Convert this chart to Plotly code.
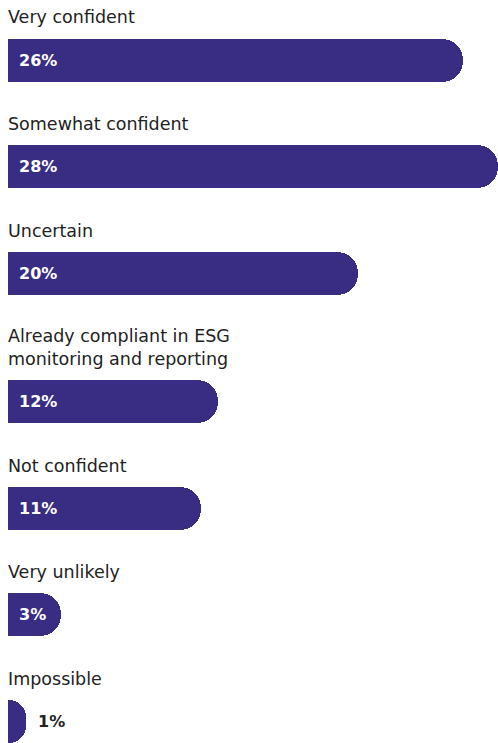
import plotly.graph_objects as go

categories = [
    "Very confident",
    "Somewhat confident",
    "Uncertain",
    "Already compliant in ESG<br>monitoring and reporting",
    "Not confident",
    "Very unlikely",
    "Impossible",
]
values = [26, 28, 20, 12, 11, 3, 1]
value_labels = [f"{v}%" for v in values]

BAR_COLOR = "#382c83"
TEXT_COLOR = "#222222"
FONT = "DejaVu Sans"

W, H = 498, 743
SLOT = 106.75
EXTRA_LINE = 21
BAR_H = 43

# compute vertical centres (in pixel-like units) from label line counts
centers = []
pos = 60
for i, c in enumerate(categories):
    lines = c.count("<br>") + 1
    pos += (lines - 1) * EXTRA_LINE
    centers.append(pos)
    pos += SLOT

fig = go.Figure(
    go.Bar(
        x=values,
        y=centers,
        orientation="h",
        width=BAR_H,
        marker=dict(color=BAR_COLOR, cornerradius=BAR_H / 2, line=dict(width=0)),
        hoverinfo="skip",
    )
)

annotations = []
for c, v, lab, yc in zip(categories, values, value_labels, centers):
    annotations.append(dict(
        x=0, y=yc - BAR_H / 2 - 9, xref="x", yref="y",
        text=c, showarrow=False, xanchor="left", yanchor="bottom", align="left",
        font=dict(family=FONT, size=17.5, color=TEXT_COLOR), xshift=-2,
    ))
    if v >= 3:
        annotations.append(dict(
            x=0, y=yc, xref="x", yref="y", text=f"<b>{lab}</b>", showarrow=False,
            xanchor="left", yanchor="middle", xshift=9,
            font=dict(family=FONT, size=16, color="white"),
        ))
    else:
        annotations.append(dict(
            x=v, y=yc, xref="x", yref="y", text=f"<b>{lab}</b>", showarrow=False,
            xanchor="left", yanchor="middle", xshift=10,
            font=dict(family=FONT, size=16, color=TEXT_COLOR),
        ))

fig.update_layout(
    width=W, height=H,
    margin=dict(l=8, r=0, t=0, b=0),
    paper_bgcolor="white", plot_bgcolor="white",
    showlegend=False,
    xaxis=dict(range=[0, 28], visible=False, fixedrange=True),
    yaxis=dict(range=[H, 0], visible=False, fixedrange=True),
    annotations=annotations,
    bargap=0,
)

fig.write_html("out.html", config={"displayModeBar": False})
